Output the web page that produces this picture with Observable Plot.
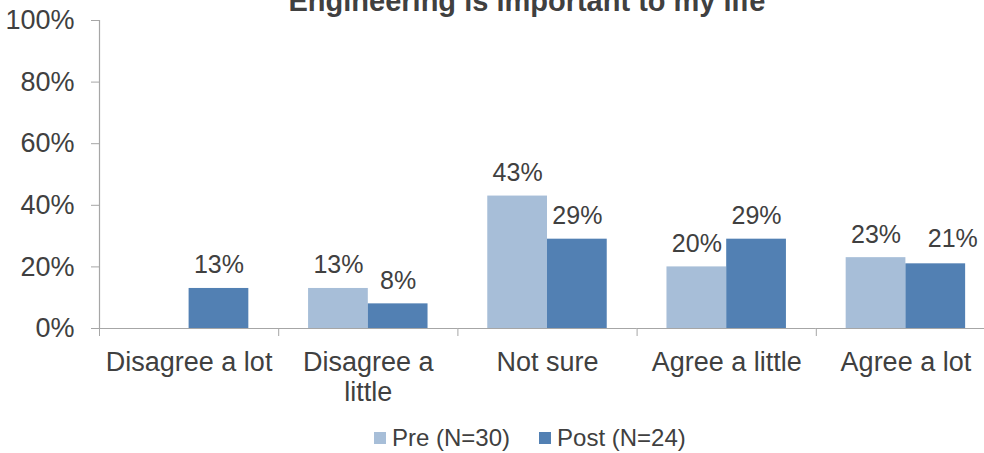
<!DOCTYPE html>
<html>
<head>
<meta charset="utf-8">
<script src="https://cdn.jsdelivr.net/npm/d3@7"></script>
<script src="https://cdn.jsdelivr.net/npm/@observablehq/plot@0.6"></script>
<style>
html, body { margin: 0; padding: 0; background: #fff; overflow: hidden; }
#wrap { position: relative; width: 984px; height: 453px; overflow: hidden; font-family: "Liberation Sans", Arial, sans-serif; color: #404040; }
#chart { position: absolute; left: 0; top: 0; }
#title { position: absolute; left: 0; width: 1054px; top: -13.5px; text-align: center; font-weight: bold; font-size: 29px; line-height: 29px; color: #404040; white-space: nowrap; }
#legend { position: absolute; left: 374px; top: 424px; display: flex; align-items: center; font-size: 24px; line-height: 28px; }
#legend .item { display: flex; align-items: center; margin-right: 29px; }
#legend .sw { width: 12px; height: 12px; margin-right: 6px; }
</style>
</head>
<body>
<div id="wrap">
  <div id="chart"></div>
  <div id="title"></div>
  <div id="legend"></div>
</div>
<script>
const titleText = "Engineering is important to my life";
const categories = ["Disagree a lot", "Disagree a little", "Not sure", "Agree a little", "Agree a lot"];
const seriesNames = ["Pre (N=30)", "Post (N=24)"];
const preValues = [null, 13, 43, 20, 23];
const postValues = [13, 8, 29, 29, 21];
const seriesColors = ["#a7bed8", "#5280b3"];
const yTicks = [0, 20, 40, 60, 80, 100];

const data = categories.flatMap((c, i) => [
  {category: c, series: seriesNames[0], value: preValues[i]},
  {category: c, series: seriesNames[1], value: postValues[i]}
]).filter(d => d.value != null);

// the last label in the reference is nudged right to clear its neighbour
const isNudged = d => d.category === categories[4] && d.series === seriesNames[1];

const W = 995, H = 420, mL = 99, mR = 0;
const step = (W - mL - mR) / categories.length;
const axisGray = "#a6a6a6";
const textColor = "#404040";

const chart = Plot.plot({
  width: W,
  height: H,
  marginTop: 20,
  marginBottom: H - 328,
  marginLeft: mL,
  marginRight: mR,
  style: {fontFamily: "'Liberation Sans', Arial, sans-serif", fontSize: "27px", color: textColor, background: "white", maxWidth: "none", overflow: "visible"},
  fx: {domain: categories, padding: 0, round: false, label: null},
  x: {domain: seriesNames, paddingInner: 0, paddingOuter: 0.5, round: false, axis: null},
  y: {domain: [0, 100], label: null},
  color: {domain: seriesNames, range: seriesColors},
  marks: [
    Plot.barY(data, {fx: "category", x: "series", y: "value", fill: "series"}),
    Plot.text(data.filter(d => !isNudged(d)), {fx: "category", x: "series", y: "value", text: d => d.value + "%", lineAnchor: "bottom", dy: -15, fontSize: 25, fill: textColor}),
    Plot.text(data.filter(isNudged), {fx: "category", x: "series", y: "value", text: d => d.value + "%", lineAnchor: "bottom", dy: -17, dx: 17, fontSize: 25, fill: textColor}),
    Plot.ruleY([0], {stroke: axisGray, strokeWidth: 1.2}),
    Plot.frame({anchor: "left", facetAnchor: "left", stroke: axisGray, strokeWidth: 1.2}),
    Plot.axisY({ticks: yTicks, tickFormat: d => d + "%", tickSize: 8, tickPadding: 17, stroke: axisGray, fill: textColor, fontSize: 27, label: null}),
    Plot.axisFx({anchor: "bottom", tickSize: 8, tickFormat: () => "", dx: -step / 2, stroke: axisGray, label: null}),
    Plot.axisFx({anchor: "bottom", tickSize: 0, tickPadding: 21, lineWidth: 7, lineHeight: 1.11, fontSize: 27, fill: textColor, label: null})
  ]
});
document.getElementById("chart").appendChild(chart);
document.getElementById("title").textContent = titleText;

const legend = document.getElementById("legend");
seriesNames.forEach((name, i) => {
  const item = document.createElement("div");
  item.className = "item";
  const sw = document.createElement("span");
  sw.className = "sw";
  sw.style.background = seriesColors[i];
  const label = document.createElement("span");
  label.textContent = name;
  item.appendChild(sw);
  item.appendChild(label);
  legend.appendChild(item);
});
</script>
</body>
</html>
